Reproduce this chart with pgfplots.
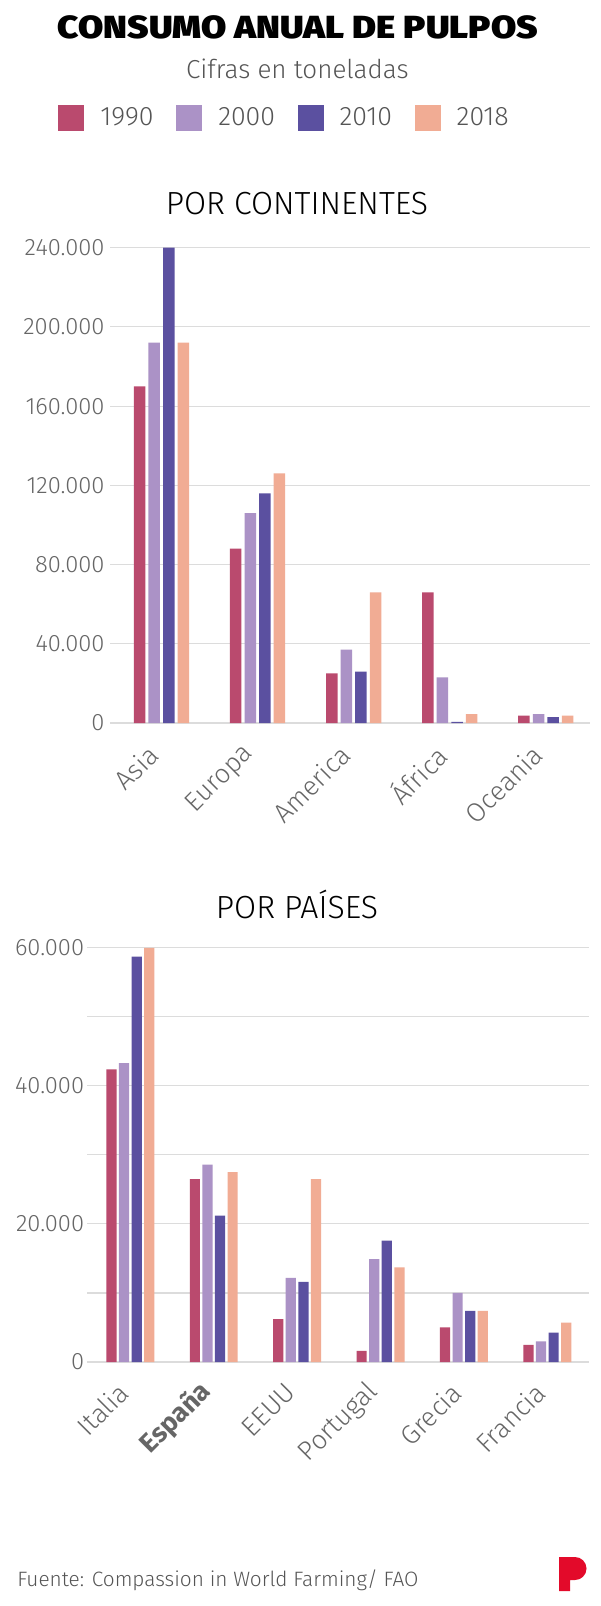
\documentclass[border=0pt]{standalone}
\usepackage{fontspec}
\setmainfont{Fira Sans}[UprightFont={* Light}, BoldFont={* Bold}]
\newfontfamily\titlefont{Fira Sans}[UprightFont={* Black}]
\usepackage{pgfplots}
\pgfplotsset{compat=1.18}

\definecolor{c1990}{HTML}{BA4A6E}
\definecolor{c2000}{HTML}{AB92C6}
\definecolor{c2010}{HTML}{5B50A0}
\definecolor{c2018}{HTML}{F1AC94}
\definecolor{tickgray}{HTML}{666666}
\definecolor{textgray}{HTML}{555555}
\definecolor{gridgray}{HTML}{DCDCDC}
\definecolor{logored}{HTML}{E30A2A}

\pgfplotsset{
  mybars/.style={
    scale only axis,
    ybar,
    axis line style={draw=none},
    tick style={draw=none},
    ymajorgrids,
    major grid style={gridgray, line width=0.8pt},
    minor grid style={gridgray, line width=0.8pt},
    ymin=0,
    xtick=data,
    scaled y ticks=false,
    clip=false,
    /pgf/number format/fixed,
    /pgf/number format/precision=0,
    /pgf/number format/1000 sep={.},
    /pgf/number format/assume math mode=true,
    yticklabel style={font=\fontsize{17.8}{21}\selectfont, text=tickgray, anchor=east, inner sep=0pt},
  },
}

\begin{document}
\begin{tikzpicture}
\useasboundingbox (0pt,0pt) rectangle (450pt,-1204.5pt);
\fill[white] (0pt,0pt) rectangle (450pt,-1204.5pt);

% titles
\node[anchor=base, inner sep=0pt] at (223.5pt,-28.5pt) {\resizebox{360pt}{\height}{\titlefont\fontsize{24}{28}\selectfont CONSUMO ANUAL DE PULPOS}};
\node[anchor=base, font=\fontsize{19.5}{23}\selectfont, text=textgray] at (223pt,-58.5pt) {Cifras en toneladas};
\node[anchor=base, font=\fontsize{24}{28}\selectfont] at (222.75pt,-160.5pt) {POR CONTINENTES};
\node[anchor=base, font=\fontsize{24}{28}\selectfont] at (222.75pt,-688.5pt) {POR PAÍSES};

% top chart
\begin{axis}[
  mybars,
  at={(82.5pt,-542.25pt)}, anchor=south west,
  width=360pt, height=356.5pt,
  xmin=-0.536, xmax=4.46,
  ymax=240000,
  ytick={0,40000,80000,120000,160000,200000,240000},
  yticklabel style={xshift=-4pt},
  xticklabels={Asia,Europa,America,África,Oceania},
  xticklabel style={font=\fontsize{20}{24}\selectfont, text=tickgray, inner sep=0pt, xshift=-6pt, yshift=-16pt, rotate=45, anchor=east},
  legend columns=4,
  legend style={at={(-0.1083,1.2729)}, anchor=west, draw=none, fill=none, inner sep=0pt,
    font=\fontsize{20}{24}\selectfont, text=textgray, nodes={inner sep=0pt},
    /tikz/every odd column/.append style={column sep=12pt},
    /tikz/every even column/.append style={column sep=17pt}},
  legend image code/.code={\fill[#1] (0pt,-9.75pt) rectangle (19.5pt,9.75pt);},
]
\addplot[fill=c1990, draw=none, bar width=8.6pt, bar shift=-16.4pt] coordinates {(0,170000) (1,88000) (2,25000) (3,66000) (4,3700)};
\addplot[fill=c2000, draw=none, bar width=8.6pt, bar shift=-5.47pt] coordinates {(0,192000) (1,106000) (2,37000) (3,23000) (4,4500)};
\addplot[fill=c2010, draw=none, bar width=8.6pt, bar shift=5.47pt] coordinates {(0,240000) (1,116000) (2,26000) (3,600) (4,3000)};
\addplot[fill=c2018, draw=none, bar width=8.6pt, bar shift=16.4pt] coordinates {(0,192000) (1,126000) (2,66000) (3,4500) (4,3700)};
\legend{1990,2000,2010,2018}
\end{axis}

% bottom chart
\begin{axis}[
  mybars,
  at={(65.25pt,-1021.5pt)}, anchor=south west,
  width=376.5pt, height=310.7pt,
  xmin=-0.52, xmax=5.5,
  ymax=60000,
  ytick={0,20000,40000,60000},
  minor ytick={10000,30000,50000},
  yminorgrids,
  yticklabel style={xshift=-2pt},
  xticklabels={Italia,\textbf{España},EEUU,Portugal,Grecia,Francia},
  xticklabel style={font=\fontsize{20}{24}\selectfont, text=tickgray, inner sep=0pt, xshift=-5pt, yshift=-15pt, rotate=45, anchor=east},
]
\addplot[fill=c1990, draw=none, bar width=7.65pt, bar shift=-14.17pt] coordinates {(0,42400) (1,26500) (2,6200) (3,1600) (4,5000) (5,2500)};
\addplot[fill=c2000, draw=none, bar width=7.65pt, bar shift=-4.72pt] coordinates {(0,43300) (1,28600) (2,12200) (3,14900) (4,10000) (5,3000)};
\addplot[fill=c2010, draw=none, bar width=7.65pt, bar shift=4.72pt] coordinates {(0,58700) (1,21200) (2,11600) (3,17600) (4,7400) (5,4250)};
\addplot[fill=c2018, draw=none, bar width=7.65pt, bar shift=14.17pt] coordinates {(0,60000) (1,27500) (2,26500) (3,13700) (4,7400) (5,5700)};
\end{axis}

% footer
\node[anchor=base west, font=\fontsize{15.6}{18}\selectfont, text=textgray, inner sep=0pt] at (12.75pt,-1189.5pt) {Fuente: Compassion in World Farming/ FAO};
\fill[logored] (419.25pt,-1167.75pt) -- (431.25pt,-1167.75pt) arc[start angle=90, end angle=-90, radius=8.625pt] -- (427.5pt,-1185pt) -- (427.5pt,-1193.25pt) -- (419.25pt,-1193.25pt) -- cycle;
\end{tikzpicture}
\end{document}
